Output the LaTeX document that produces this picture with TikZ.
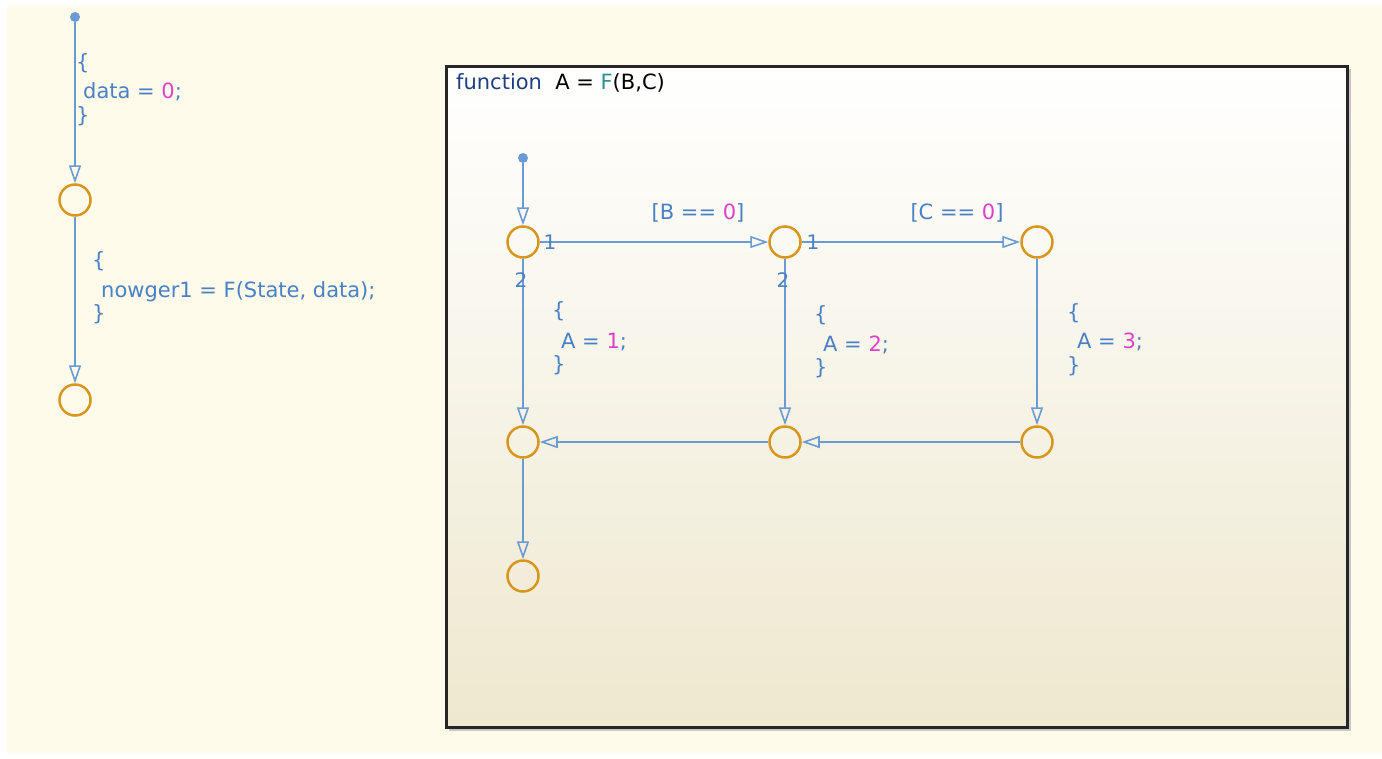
\documentclass[tikz,border=0pt]{standalone}
\usepackage{fontspec}
\setmainfont{DejaVu Sans}
\usetikzlibrary{arrows.meta}
\definecolor{cream}{HTML}{FEFBEA}
\definecolor{boxbot}{HTML}{EEE8CF}
\definecolor{jn}{HTML}{D9961E}
\definecolor{tr}{HTML}{6B9BD2}
\definecolor{tx}{HTML}{4A80C4}
\definecolor{num}{HTML}{E040C8}
\definecolor{kw}{HTML}{1F3F80}
\definecolor{fn}{HTML}{2A9090}
\begin{document}
\begin{tikzpicture}[x=1pt,y=-1pt,
 junc/.style={circle,draw=jn,line width=2.5pt,minimum size=31pt,inner sep=0pt},
 trans/.style={draw=tr,line width=2pt,-{Triangle[open,length=18pt,width=12pt,line width=1.6pt]}},
 lbl/.style={text=tx,font=\fontsize{21}{23}\selectfont,inner sep=0pt,anchor=west},
 small/.style={text=tx,font=\fontsize{20}{22}\selectfont,inner sep=0pt},
 dotn/.style={circle,fill=tr,inner sep=0pt,minimum size=10pt}]
\useasboundingbox (0,0) rectangle (1382,758);
\fill[white] (0,0) rectangle (1382,758);
\fill[cream] (7,6) rectangle (1382,753);
% function box
\fill[black!22] (449,69) rectangle (1351,731);
\shade[top color=white,bottom color=boxbot] (446,66) rectangle (1347,727);
\draw[black!85,line width=3pt] (446,66) rectangle (1347,727);
\node[lbl,text=black] (title) at (456,83) {\textcolor{kw}{function}\ \ A = \textcolor{fn}{F}(B,C)};
% left chart
\node[dotn] (d0) at (75,17) {};
\node[junc] (a1) at (75,200) {};
\node[junc] (a2) at (75,400) {};
\draw[trans] (d0) -- (a1);
\draw[trans] (a1) -- (a2);
\node[lbl] (l1a) at (76,63) {\{};
\node[lbl] (l1b) at (83,92) {data = \textcolor{num}{0};};
\node[lbl] (l1c) at (76,116) {\}};
\node[lbl] (l2a) at (92,261) {\{};
\node[lbl] (l2b) at (101,292) {nowger1 = F(State, data);};
\node[lbl] (l2c) at (92,314) {\}};
% function chart
\node[dotn] (d1) at (523,158) {};
\node[junc] (j11) at (523,242) {};
\node[junc] (j21) at (785,242) {};
\node[junc] (j31) at (1037,242) {};
\node[junc] (j12) at (523,442) {};
\node[junc] (j22) at (785,442) {};
\node[junc] (j32) at (1037,442) {};
\node[junc] (j13) at (523,576) {};
\draw[trans] (d1) -- (j11);
\draw[trans] (j11) -- (j21);
\draw[trans] (j21) -- (j31);
\draw[trans] (j11) -- (j12);
\draw[trans] (j21) -- (j22);
\draw[trans] (j31) -- (j32);
\draw[trans] (j32) -- (j22);
\draw[trans] (j22) -- (j12);
\draw[trans] (j12) -- (j13);
\node[lbl,anchor=center] (g1) at (698,213) {[B == \textcolor{num}{0}]};
\node[lbl,anchor=center] (g2) at (957,213) {[C == \textcolor{num}{0}]};
\node[small] (o11) at (550,242) {1};
\node[small] (o12) at (521,280) {2};
\node[small] (o21) at (813,242) {1};
\node[small] (o22) at (783,280) {2};
\node[lbl] (b1a) at (552,311) {\{};
\node[lbl] (b1b) at (561,342) {A = \textcolor{num}{1};};
\node[lbl] (b1c) at (552,365) {\}};
\node[lbl] (b2a) at (814,315) {\{};
\node[lbl] (b2b) at (823,345) {A = \textcolor{num}{2};};
\node[lbl] (b2c) at (814,368) {\}};
\node[lbl] (b3a) at (1067,313) {\{};
\node[lbl] (b3b) at (1077,342) {A = \textcolor{num}{3};};
\node[lbl] (b3c) at (1067,366) {\}};
\end{tikzpicture}
\end{document}
